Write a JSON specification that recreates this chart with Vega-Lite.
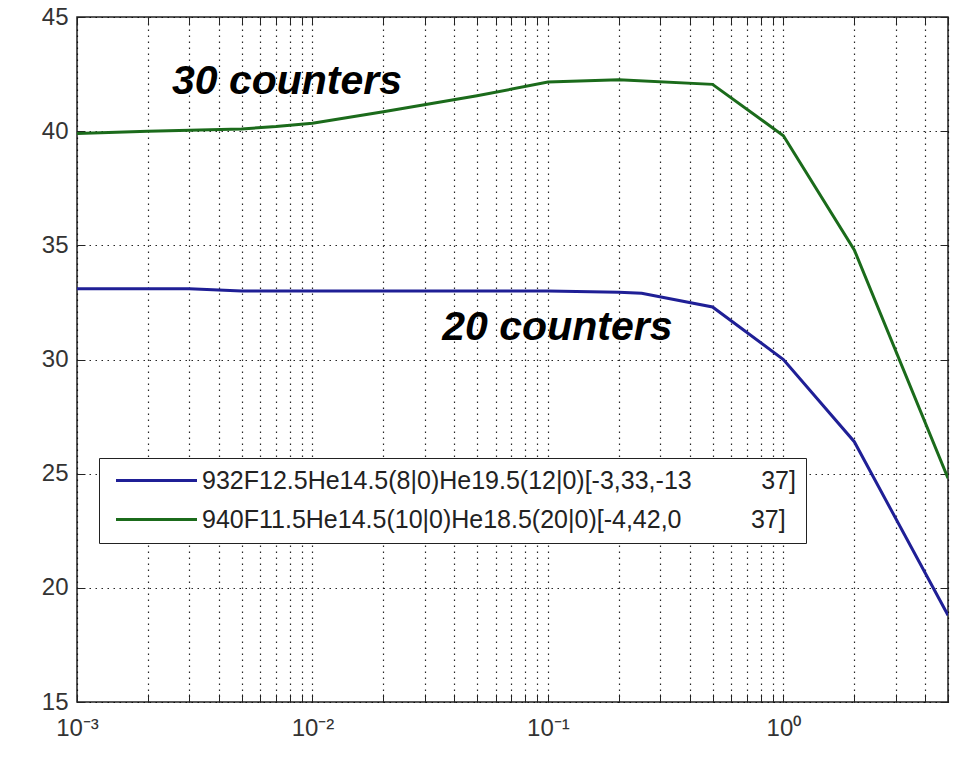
{
  "$schema": "https://vega.github.io/schema/vega-lite/v6.json",
  "width": 871,
  "height": 685,
  "autosize": {"type": "none"},
  "padding": {"left": 77, "top": 17, "right": 15, "bottom": 57},
  "background": "white",
  "config": {
    "view": {"stroke": "#222", "strokeWidth": 1.5},
    "axis": {"labelFont": "Liberation Sans", "labelFontSize": 24, "labelColor": "#333", "title": null, "domain": false, "tickColor": "#222", "tickSize": -8, "tickWidth": 1}
  },
  "datasets": {
    "curves": [
      {"x": 0.001, "y": 33.1, "s": "932F12.5He14.5(8|0)He19.5(12|0)[-3,33,-13\u00a0\u00a0\u00a0\u00a0\u00a0\u00a0\u00a0\u00a0\u00a0\u00a037]\u00a0\u00a0"},
      {"x": 0.002, "y": 33.1, "s": "932F12.5He14.5(8|0)He19.5(12|0)[-3,33,-13\u00a0\u00a0\u00a0\u00a0\u00a0\u00a0\u00a0\u00a0\u00a0\u00a037]\u00a0\u00a0"},
      {"x": 0.003, "y": 33.1, "s": "932F12.5He14.5(8|0)He19.5(12|0)[-3,33,-13\u00a0\u00a0\u00a0\u00a0\u00a0\u00a0\u00a0\u00a0\u00a0\u00a037]\u00a0\u00a0"},
      {"x": 0.005, "y": 33.0, "s": "932F12.5He14.5(8|0)He19.5(12|0)[-3,33,-13\u00a0\u00a0\u00a0\u00a0\u00a0\u00a0\u00a0\u00a0\u00a0\u00a037]\u00a0\u00a0"},
      {"x": 0.01, "y": 33.0, "s": "932F12.5He14.5(8|0)He19.5(12|0)[-3,33,-13\u00a0\u00a0\u00a0\u00a0\u00a0\u00a0\u00a0\u00a0\u00a0\u00a037]\u00a0\u00a0"},
      {"x": 0.02, "y": 33.0, "s": "932F12.5He14.5(8|0)He19.5(12|0)[-3,33,-13\u00a0\u00a0\u00a0\u00a0\u00a0\u00a0\u00a0\u00a0\u00a0\u00a037]\u00a0\u00a0"},
      {"x": 0.05, "y": 33.0, "s": "932F12.5He14.5(8|0)He19.5(12|0)[-3,33,-13\u00a0\u00a0\u00a0\u00a0\u00a0\u00a0\u00a0\u00a0\u00a0\u00a037]\u00a0\u00a0"},
      {"x": 0.1, "y": 33.0, "s": "932F12.5He14.5(8|0)He19.5(12|0)[-3,33,-13\u00a0\u00a0\u00a0\u00a0\u00a0\u00a0\u00a0\u00a0\u00a0\u00a037]\u00a0\u00a0"},
      {"x": 0.2, "y": 32.95, "s": "932F12.5He14.5(8|0)He19.5(12|0)[-3,33,-13\u00a0\u00a0\u00a0\u00a0\u00a0\u00a0\u00a0\u00a0\u00a0\u00a037]\u00a0\u00a0"},
      {"x": 0.25, "y": 32.9, "s": "932F12.5He14.5(8|0)He19.5(12|0)[-3,33,-13\u00a0\u00a0\u00a0\u00a0\u00a0\u00a0\u00a0\u00a0\u00a0\u00a037]\u00a0\u00a0"},
      {"x": 0.5, "y": 32.3, "s": "932F12.5He14.5(8|0)He19.5(12|0)[-3,33,-13\u00a0\u00a0\u00a0\u00a0\u00a0\u00a0\u00a0\u00a0\u00a0\u00a037]\u00a0\u00a0"},
      {"x": 1, "y": 30.0, "s": "932F12.5He14.5(8|0)He19.5(12|0)[-3,33,-13\u00a0\u00a0\u00a0\u00a0\u00a0\u00a0\u00a0\u00a0\u00a0\u00a037]\u00a0\u00a0"},
      {"x": 2, "y": 26.4, "s": "932F12.5He14.5(8|0)He19.5(12|0)[-3,33,-13\u00a0\u00a0\u00a0\u00a0\u00a0\u00a0\u00a0\u00a0\u00a0\u00a037]\u00a0\u00a0"},
      {"x": 5, "y": 18.8, "s": "932F12.5He14.5(8|0)He19.5(12|0)[-3,33,-13\u00a0\u00a0\u00a0\u00a0\u00a0\u00a0\u00a0\u00a0\u00a0\u00a037]\u00a0\u00a0"},
      {"x": 0.001, "y": 39.9, "s": "940F11.5He14.5(10|0)He18.5(20|0)[-4,42,0\u00a0\u00a0\u00a0\u00a0\u00a0\u00a0\u00a0\u00a0\u00a0\u00a037]"},
      {"x": 0.002, "y": 40.0, "s": "940F11.5He14.5(10|0)He18.5(20|0)[-4,42,0\u00a0\u00a0\u00a0\u00a0\u00a0\u00a0\u00a0\u00a0\u00a0\u00a037]"},
      {"x": 0.005, "y": 40.1, "s": "940F11.5He14.5(10|0)He18.5(20|0)[-4,42,0\u00a0\u00a0\u00a0\u00a0\u00a0\u00a0\u00a0\u00a0\u00a0\u00a037]"},
      {"x": 0.007, "y": 40.2, "s": "940F11.5He14.5(10|0)He18.5(20|0)[-4,42,0\u00a0\u00a0\u00a0\u00a0\u00a0\u00a0\u00a0\u00a0\u00a0\u00a037]"},
      {"x": 0.01, "y": 40.35, "s": "940F11.5He14.5(10|0)He18.5(20|0)[-4,42,0\u00a0\u00a0\u00a0\u00a0\u00a0\u00a0\u00a0\u00a0\u00a0\u00a037]"},
      {"x": 0.02, "y": 40.85, "s": "940F11.5He14.5(10|0)He18.5(20|0)[-4,42,0\u00a0\u00a0\u00a0\u00a0\u00a0\u00a0\u00a0\u00a0\u00a0\u00a037]"},
      {"x": 0.05, "y": 41.55, "s": "940F11.5He14.5(10|0)He18.5(20|0)[-4,42,0\u00a0\u00a0\u00a0\u00a0\u00a0\u00a0\u00a0\u00a0\u00a0\u00a037]"},
      {"x": 0.1, "y": 42.15, "s": "940F11.5He14.5(10|0)He18.5(20|0)[-4,42,0\u00a0\u00a0\u00a0\u00a0\u00a0\u00a0\u00a0\u00a0\u00a0\u00a037]"},
      {"x": 0.2, "y": 42.25, "s": "940F11.5He14.5(10|0)He18.5(20|0)[-4,42,0\u00a0\u00a0\u00a0\u00a0\u00a0\u00a0\u00a0\u00a0\u00a0\u00a037]"},
      {"x": 0.5, "y": 42.05, "s": "940F11.5He14.5(10|0)He18.5(20|0)[-4,42,0\u00a0\u00a0\u00a0\u00a0\u00a0\u00a0\u00a0\u00a0\u00a0\u00a037]"},
      {"x": 1, "y": 39.8, "s": "940F11.5He14.5(10|0)He18.5(20|0)[-4,42,0\u00a0\u00a0\u00a0\u00a0\u00a0\u00a0\u00a0\u00a0\u00a0\u00a037]"},
      {"x": 2, "y": 34.8, "s": "940F11.5He14.5(10|0)He18.5(20|0)[-4,42,0\u00a0\u00a0\u00a0\u00a0\u00a0\u00a0\u00a0\u00a0\u00a0\u00a037]"},
      {"x": 5, "y": 24.8, "s": "940F11.5He14.5(10|0)He18.5(20|0)[-4,42,0\u00a0\u00a0\u00a0\u00a0\u00a0\u00a0\u00a0\u00a0\u00a0\u00a037]"}
    ],
    "notes": [
      {"x": 0.00253, "y": 42.15, "label": "30 counters"},
      {"x": 0.0356, "y": 31.4, "label": "20 counters"}
    ]
  },
  "layer": [
    {
      "data": {"name": "curves"},
      "mark": {"type": "line", "strokeWidth": 3, "clip": true},
      "encoding": {
        "x": {
          "field": "x", "type": "quantitative",
          "scale": {"type": "log", "domain": [0.001, 5], "nice": false},
          "axis": {
            "orient": "bottom",
            "values": [0.001,0.002,0.003,0.004,0.005,0.006,0.007,0.008,0.009,0.01,0.02,0.03,0.04,0.05,0.06,0.07,0.08,0.09,0.1,0.2,0.3,0.4,0.5,0.6,0.7,0.8,0.9,1,2,3,4,5],
            "labelExpr": "datum.value == 0.001 ? '10⁻³' : datum.value == 0.01 ? '10⁻²' : datum.value == 0.1 ? '10⁻¹' : datum.value == 1 ? '10⁰' : ''",
            "labelOverlap": false,
            "labelFlush": false,
            "labelPadding": 22,
            "grid": true, "gridColor": "#000", "gridDash": [1.5, 4.5], "gridOpacity": 0.85, "gridWidth": 1.2
          }
        },
        "y": {
          "field": "y", "type": "quantitative",
          "scale": {"domain": [15, 45], "nice": false, "zero": false},
          "axis": {
            "orient": "left",
            "values": [15, 20, 25, 30, 35, 40, 45],
            "labelPadding": 17,
            "labelFlush": false,
            "grid": true, "gridColor": "#000", "gridDash": [1.5, 4.5], "gridOpacity": 0.85, "gridWidth": 1.2
          }
        },
        "color": {
          "field": "s", "type": "nominal",
          "scale": {"domain": ["932F12.5He14.5(8|0)He19.5(12|0)[-3,33,-13\u00a0\u00a0\u00a0\u00a0\u00a0\u00a0\u00a0\u00a0\u00a0\u00a037]\u00a0\u00a0", "940F11.5He14.5(10|0)He18.5(20|0)[-4,42,0\u00a0\u00a0\u00a0\u00a0\u00a0\u00a0\u00a0\u00a0\u00a0\u00a037]"], "range": ["#1f1f96", "#1b6b1b"]},
          "legend": {
            "orient": "none", "legendX": 22, "legendY": 441, "title": null,
            "fillColor": "white", "strokeColor": "#222", "padding": 10,
            "symbolType": "M-4,0H4", "symbolSize": 410, "symbolStrokeWidth": 3,
            "symbolOffset": 35, "labelOffset": 33,
            "labelFont": "Liberation Sans", "labelFontSize": 25, "labelColor": "#222", "labelLimit": 0,
            "rowPadding": 13
          }
        }
      }
    },
    {
      "data": {"name": "notes"},
      "mark": {"type": "text", "align": "left", "baseline": "middle", "font": "Liberation Sans", "fontSize": 41, "fontWeight": "bold", "fontStyle": "italic", "color": "#000"},
      "encoding": {
        "x": {
          "field": "x", "type": "quantitative",
          "scale": {"type": "log", "domain": [0.001, 5], "nice": false},
          "axis": {"orient": "top", "labels": false, "grid": false,
            "values": [0.001,0.002,0.003,0.004,0.005,0.006,0.007,0.008,0.009,0.01,0.02,0.03,0.04,0.05,0.06,0.07,0.08,0.09,0.1,0.2,0.3,0.4,0.5,0.6,0.7,0.8,0.9,1,2,3,4,5]}
        },
        "y": {
          "field": "y", "type": "quantitative",
          "scale": {"domain": [15, 45], "nice": false, "zero": false},
          "axis": {"orient": "right", "labels": false, "grid": false, "values": [15, 20, 25, 30, 35, 40, 45]}
        },
        "text": {"field": "label"}
      }
    }
  ],
  "resolve": {"axis": {"x": "independent", "y": "independent"}}
}
